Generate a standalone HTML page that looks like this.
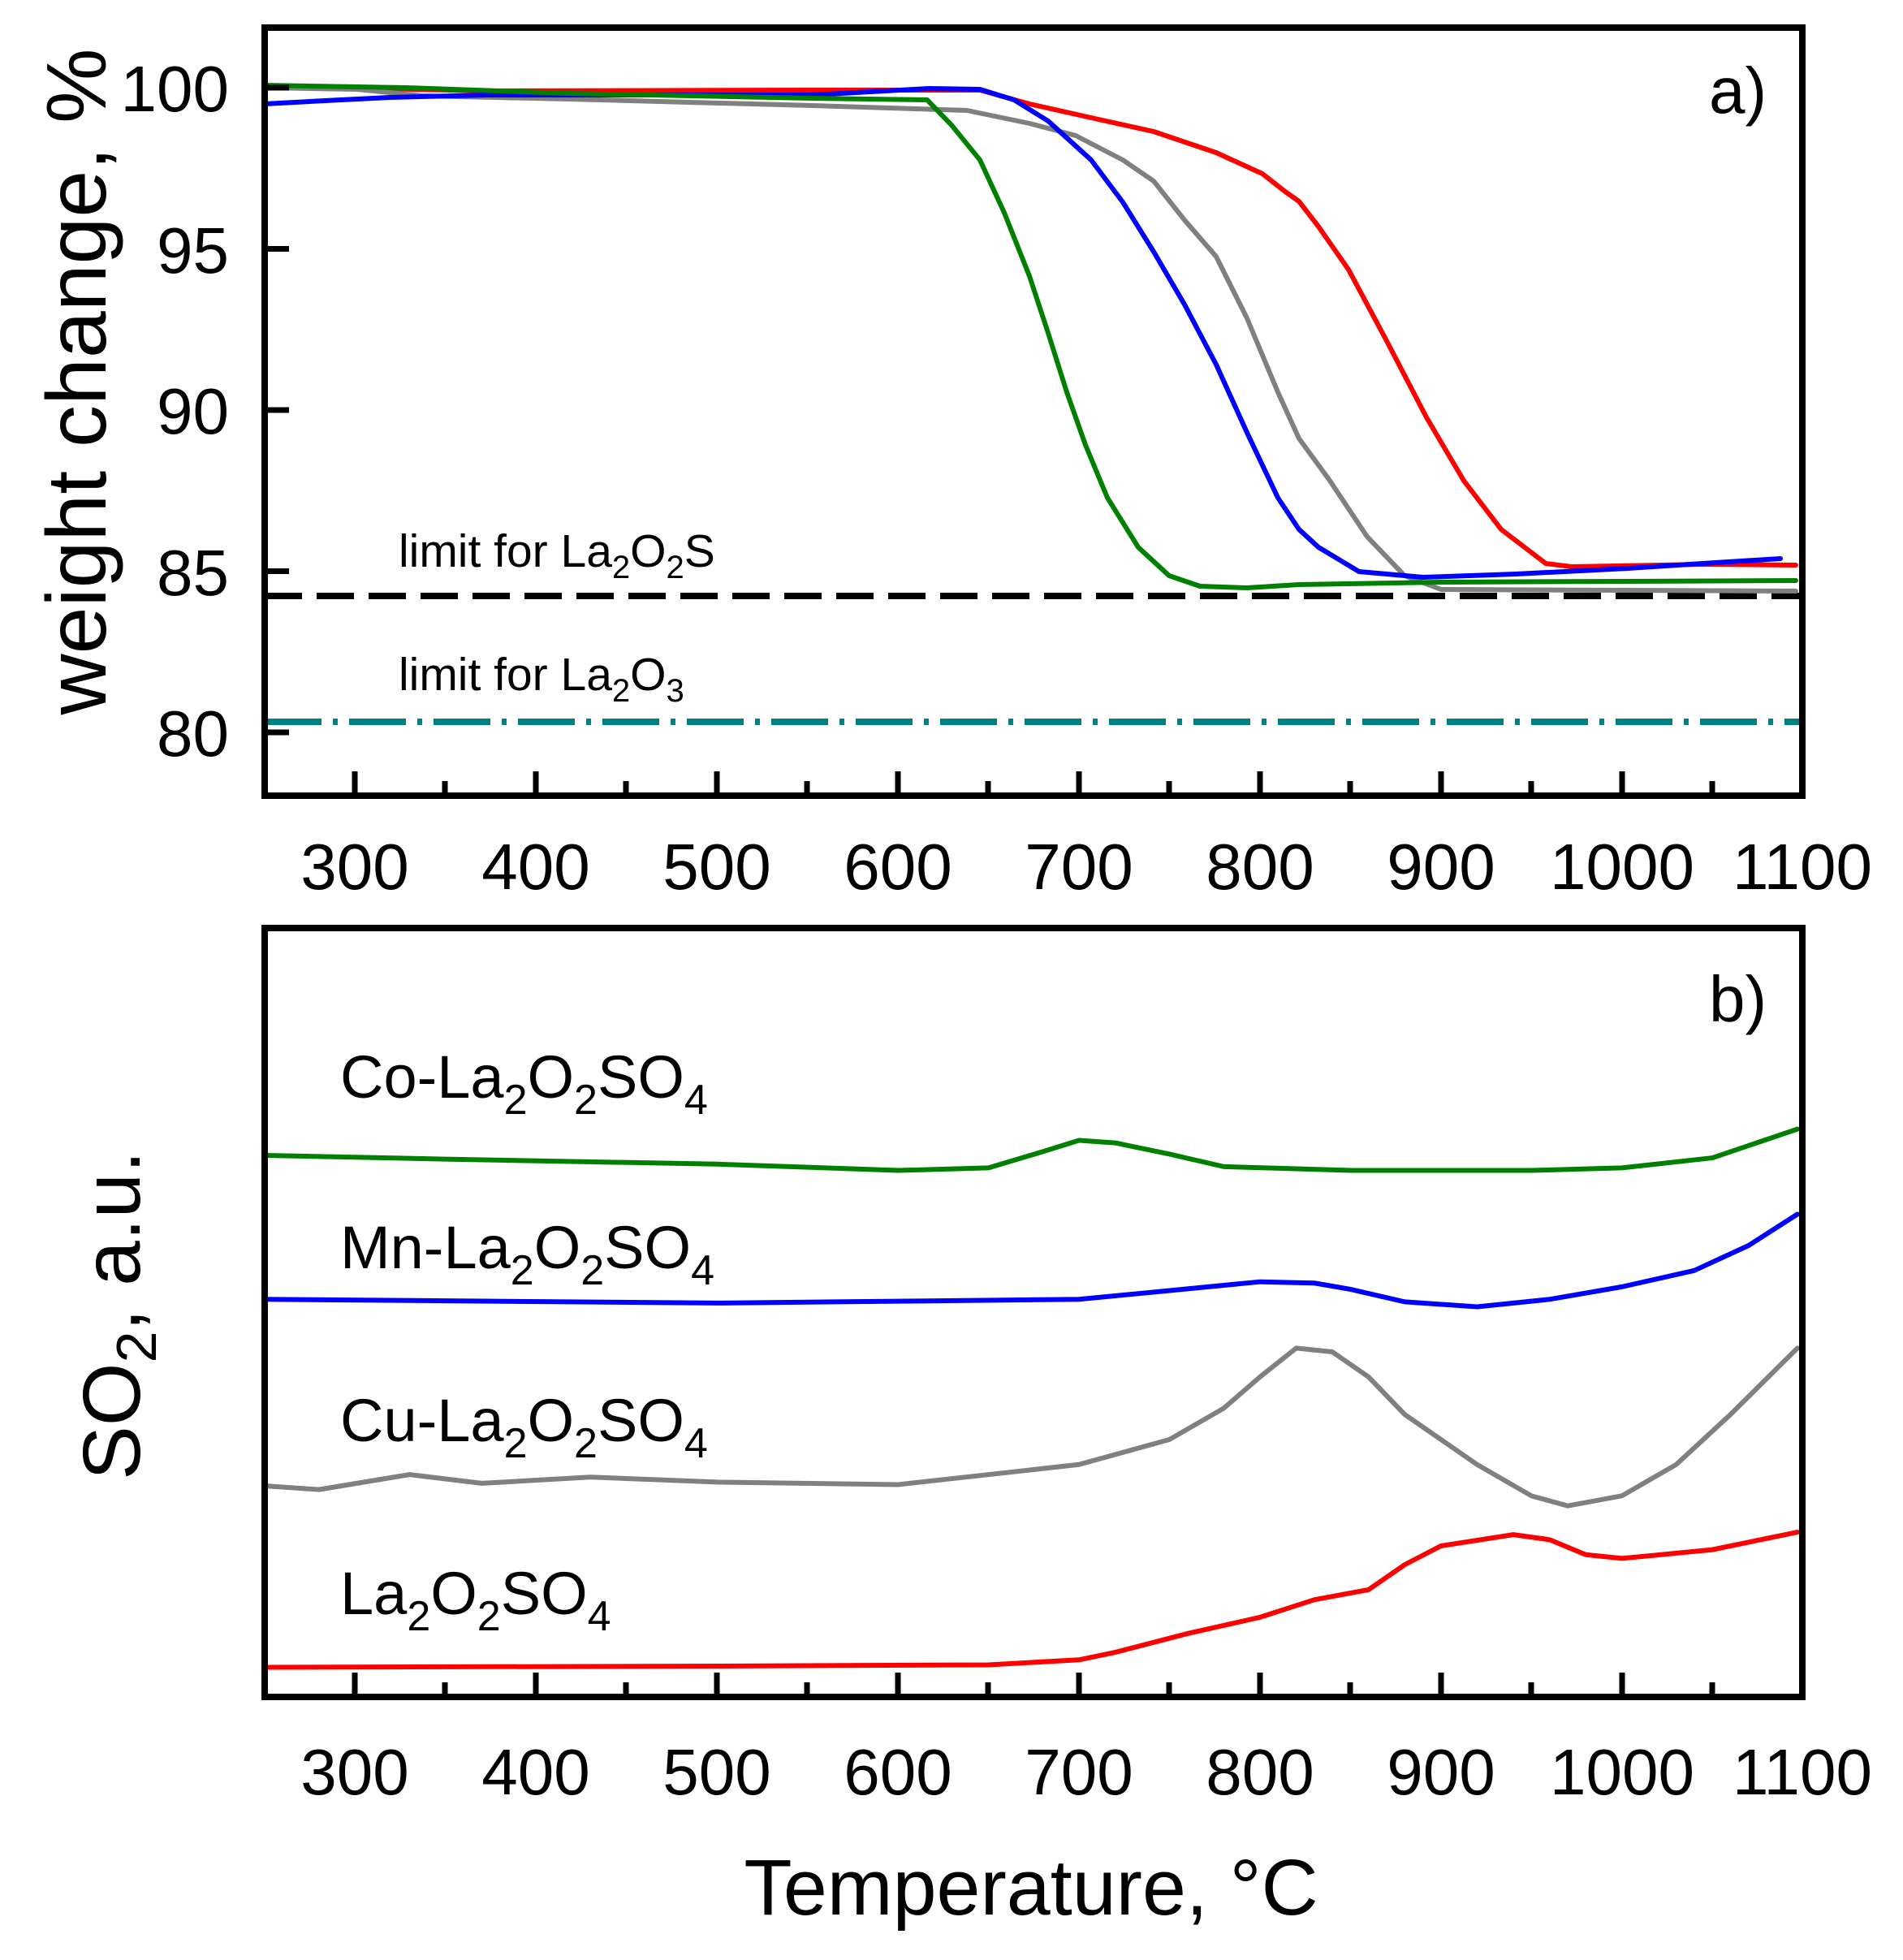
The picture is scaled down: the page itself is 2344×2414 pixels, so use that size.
<!DOCTYPE html>
<html><head><meta charset="utf-8"><style>
html,body{margin:0;padding:0;background:#fff;}
svg{display:block;font-family:"Liberation Sans",Arial,sans-serif;}
</style></head><body>
<svg width="2344" height="2414" viewBox="0 0 2344 2414" xmlns="http://www.w3.org/2000/svg">
<rect width="2344" height="2414" fill="#fff"/>

<line x1="326" y1="734" x2="2220" y2="734" stroke="#000" stroke-width="8" stroke-dasharray="46 18"/>
<line x1="326" y1="889" x2="2220" y2="889" stroke="#008080" stroke-width="8" stroke-dasharray="70 14 6 14"/>

<g fill="none" stroke-width="6" stroke-linejoin="round" stroke-linecap="round">
<polyline stroke="#ff0000" points="326,106 600,112 1000,111 1207,111 1268,128 1344,145 1421,162 1498,188 1555,214 1583,236 1600,248 1624,279 1661,332 1707,418 1757,514 1803,592 1849,652 1904,694 1936,698 2097,695 2212,696"/>
<polyline stroke="#808080" points="326,108 440,110 520,118 700,122 1000,130 1191,136 1268,152 1325,167 1383,197 1421,223 1459,271 1498,316 1536,392 1574,483 1600,540 1638,592 1684,661 1730,709 1775,726 2212,728"/>
<polyline stroke="#0000ff" points="326,128 400,124 480,120 600,117 1000,117 1145,109 1207,110 1249,123 1291,149 1344,197 1383,249 1421,310 1459,375 1498,449 1537,535 1574,613 1600,652 1624,674 1674,704 1753,711 1867,707 2005,700 2097,694 2193,688"/>
<polyline stroke="#008000" points="326,105 500,108 700,115 900,119 1000,121 1142,123 1172,154 1207,197 1237,262 1268,340 1291,410 1314,483 1337,548 1364,613 1402,674 1440,709 1478,722 1536,724 1600,720 1775,717 2212,715"/>
</g>

<g transform="matrix(2.229 0 0 1.5417 -231.25 0)" fill="none" stroke-width="6" stroke-linejoin="round" stroke-linecap="round">
<polyline vector-effect="non-scaling-stroke" stroke="#008000" points="250,923 350,926 500,930 600,935 650,933 680,920 700,911 720,913 750,922 780,932 850,935 950,935 1000,933 1050,925 1097,902"/>
<polyline vector-effect="non-scaling-stroke" stroke="#0000ff" points="250,1038 500,1041 700,1038 800,1024 830,1025 850,1030 880,1040 920,1044 960,1038 1000,1028 1040,1015 1070,995 1097,970"/>
<polyline vector-effect="non-scaling-stroke" stroke="#808080" points="250,1187 280,1190 330,1178 370,1185 430,1180 500,1184 600,1186 700,1170 750,1150 780,1125 800,1100 820,1077 840,1080 860,1100 880,1130 920,1170 950,1195 970,1203 1000,1195 1030,1170 1060,1130 1097,1077"/>
<polyline vector-effect="non-scaling-stroke" stroke="#ff0000" points="250,1332 500,1331 650,1330 700,1326 720,1320 760,1305 800,1292 830,1278 860,1270 880,1250 900,1235 940,1226 960,1230 980,1242 1000,1245 1050,1238 1097,1224"/>
</g>

<rect x="326" y="34" width="1894" height="946" fill="none" stroke="#000" stroke-width="8"/>
<rect x="326" y="1143" width="1894" height="947" fill="none" stroke="#000" stroke-width="8"/>

<g stroke="#000" stroke-width="7">
<path d="M437,980v-30M548,980v-18M660,980v-30M771,980v-18M883,980v-30M994,980v-18M1106,980v-30M1217,980v-18M1329,980v-30M1440,980v-18M1552,980v-30M1663,980v-18M1775,980v-30M1886,980v-18M1998,980v-30M2109,980v-18"/>
<path d="M437,2090v-30M548,2090v-18M660,2090v-30M771,2090v-18M883,2090v-30M994,2090v-18M1106,2090v-30M1217,2090v-18M1329,2090v-30M1440,2090v-18M1552,2090v-30M1663,2090v-18M1775,2090v-30M1886,2090v-18M1998,2090v-30M2109,2090v-18"/>
<path d="M326,108h30M326,306.5h30M326,505h30M326,703.5h30M326,902h30"/>
</g>

<g font-size="80" text-anchor="middle" fill="#000">
<text x="437" y="1095">300</text><text x="660" y="1095">400</text><text x="883" y="1095">500</text><text x="1106" y="1095">600</text><text x="1329" y="1095">700</text><text x="1552" y="1095">800</text><text x="1775" y="1095">900</text><text x="1998" y="1095">1000</text><text x="2220" y="1095">1100</text>
<text x="437" y="2210">300</text><text x="660" y="2210">400</text><text x="883" y="2210">500</text><text x="1106" y="2210">600</text><text x="1329" y="2210">700</text><text x="1552" y="2210">800</text><text x="1775" y="2210">900</text><text x="1998" y="2210">1000</text><text x="2220" y="2210">1100</text>
</g>
<g font-size="80" text-anchor="end" fill="#000">
<text x="282" y="137">100</text><text x="282" y="336">95</text><text x="282" y="534">90</text><text x="282" y="733">85</text><text x="282" y="931">80</text>
</g>

<text x="2105" y="139" font-size="80">a)</text>
<text x="2105" y="1258" font-size="80">b)</text>

<text x="491" y="698" font-size="57">limit for La<tspan font-size="40" dy="14">2</tspan><tspan dy="-14">O</tspan><tspan font-size="40" dy="14">2</tspan><tspan dy="-14">S</tspan></text>
<text x="491" y="850" font-size="57">limit for La<tspan font-size="40" dy="14">2</tspan><tspan dy="-14">O</tspan><tspan font-size="40" dy="14">3</tspan></text>

<g font-size="74" fill="#000">
<text x="419" y="1352">Co-La<tspan font-size="52" dy="20">2</tspan><tspan dy="-20">O</tspan><tspan font-size="52" dy="20">2</tspan><tspan dy="-20">SO</tspan><tspan font-size="52" dy="20">4</tspan></text>
<text x="419" y="1562">Mn-La<tspan font-size="52" dy="20">2</tspan><tspan dy="-20">O</tspan><tspan font-size="52" dy="20">2</tspan><tspan dy="-20">SO</tspan><tspan font-size="52" dy="20">4</tspan></text>
<text x="419" y="1775">Cu-La<tspan font-size="52" dy="20">2</tspan><tspan dy="-20">O</tspan><tspan font-size="52" dy="20">2</tspan><tspan dy="-20">SO</tspan><tspan font-size="52" dy="20">4</tspan></text>
<text x="419" y="1988">La<tspan font-size="52" dy="20">2</tspan><tspan dy="-20">O</tspan><tspan font-size="52" dy="20">2</tspan><tspan dy="-20">SO</tspan><tspan font-size="52" dy="20">4</tspan></text>
</g>

<text x="1270" y="2358" font-size="97" text-anchor="middle">Temperature, °C</text>
<text transform="translate(130,470) rotate(-90)" font-size="104" text-anchor="middle">weight change, %</text>
<text transform="translate(172,1620) rotate(-90)" font-size="100" text-anchor="middle">SO<tspan font-size="70" dy="20">2</tspan><tspan dy="-20">, a.u.</tspan></text>
</svg>
</body></html>
